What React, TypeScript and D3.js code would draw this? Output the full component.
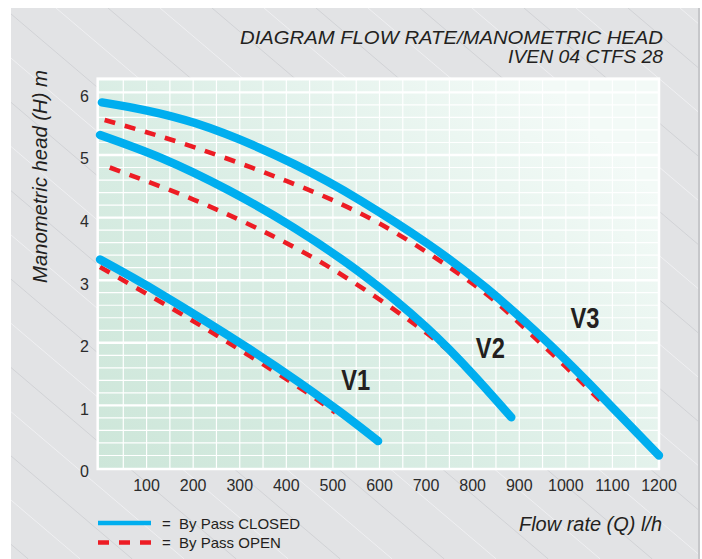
import React from "react";
import * as d3 from "d3";

const width = 702;
const height = 559;

// flow rate (l/h) on x, manometric head (m) on y
const flowTicks = [100, 200, 300, 400, 500, 600, 700, 800, 900, 1000, 1100, 1200];
const headTicks = [0, 1, 2, 3, 4, 5, 6];

type Pt = [number, number];

const v1Closed: Pt[] = [[0, 3.33], [132, 2.775], [316, 1.925], [429, 1.36], [515, 0.9], [597, 0.43]];
const v1Open: Pt[] = [[0, 3.21], [161, 2.52], [300, 1.89], [429, 1.28], [505, 0.885]];

const v2Closed: Pt[] = [[0, 5.32], [132, 4.95], [275, 4.44], [418, 3.83], [562, 3.1], [700, 2.25], [800, 1.5], [883, 0.81]];
const v2Open: Pt[] = [[21, 4.8], [202, 4.284], [368, 3.716], [527, 3.048], [700, 2.161], [790, 1.585]];

const v3Closed: Pt[] = [[4, 5.84], [204, 5.51], [418, 4.85], [562, 4.26], [700, 3.6], [830, 2.87], [950, 2.08], [1050, 1.35], [1200, 0.2]];
const v3Open: Pt[] = [[10, 5.56], [200, 5.13], [400, 4.585], [600, 3.905], [800, 2.945], [900, 2.315], [1000, 1.615], [1077, 1.05]];

const curveLabels = [
    { name: "V1", q: 549, h: 1.25 },
    { name: "V2", q: 838, h: 1.76 },
    { name: "V3", q: 1041, h: 2.24 },
];

const legendItems = [
    { label: "=  By Pass CLOSED", open: false },
    { label: "=  By Pass OPEN", open: true },
];

const BLUE = "#00aeef";
const RED = "#ed1c24";
const INK = "#231f20";
const FONT = "'Liberation Sans', Arial, Helvetica, sans-serif";

const x = d3.scaleLinear().domain([0, 1200]).range([100, 659]);
const y = d3.scaleLinear().domain([0, 6]).range([468, 92.4]);

const line = d3.line<Pt>()
    .x(d => x(d[0]))
    .y(d => y(d[1]))
    .curve(d3.curveNatural);

const gridQ = d3.range(50, 1200, 50);
const gridH = d3.range(1, 32).map(i => +(i * 0.2).toFixed(1));

// decorative diagonal hairlines in the grey backdrop
const stripes = d3.range(-620, 700, 52);

export default function App() {
    const px0 = x(-5), px1 = x(1200);
    const py0 = y(6.22), py1 = y(0) + 1;

    return (
        <svg width={width} height={height} style={{ position: "absolute", left: 0, top: 0 }}
            fontFamily={FONT}>
            <defs>
                <linearGradient id="panelFill" x1="0" y1="1" x2="1" y2="0.3">
                    <stop offset="0" stopColor="#cde6d9" />
                    <stop offset="0.45" stopColor="#d9ede4" />
                    <stop offset="1" stopColor="#f3faf7" />
                </linearGradient>
                <clipPath id="bgClip">
                    <rect x={11} y={8} width={688} height={height - 8} />
                </clipPath>
            </defs>

            <rect x={0} y={0} width={width} height={height} fill="#fff" />
            <rect x={11} y={8} width={688} height={height - 8} fill="#e2e3e5" />
            <g clipPath="url(#bgClip)" fill="none" strokeWidth={0.8}>
                {stripes.map((s, i) => (
                    <line key={s} x1={s} y1={8} x2={s + (height - 8) / 0.85} y2={height}
                        stroke={i % 2 ? "#f3f3f5" : "#cdced2"} />
                ))}
            </g>
            <rect x={698} y={8} width={2} height={height - 8} fill="#c6c7ca" />

            {/* title */}
            <g fill={INK} fontStyle="italic" fontSize={19} textAnchor="end">
                <text x={663} y={44} textLength={423} lengthAdjust="spacingAndGlyphs">DIAGRAM FLOW RATE/MANOMETRIC HEAD</text>
                <text x={663} y={63} textLength={155} lengthAdjust="spacingAndGlyphs">IVEN 04 CTFS 28</text>
            </g>

            {/* plot panel */}
            <rect x={px0} y={py0} width={px1 - px0} height={py1 - py0} fill="url(#panelFill)" />
            <g stroke="#fff" fill="none">
                {gridQ.map(q => (
                    <line key={q} x1={x(q)} x2={x(q)} y1={py0} y2={py1} strokeWidth={1.2} />
                ))}
                {gridH.map(h => (
                    <line key={h} x1={px0} x2={px1} y1={y(h)} y2={y(h)}
                        strokeWidth={Number.isInteger(h) ? 2.4 : 1.2} />
                ))}
                <rect x={px0} y={py0} width={px1 - px0} height={py1 - py0} strokeWidth={2.5} />
            </g>

            {/* axes labels */}
            <g fill="#2b2b2b" fontSize={16}>
                {headTicks.map(h => (
                    <text key={h} x={89} y={y(h) + 9.4} textAnchor="end">{h}</text>
                ))}
                {flowTicks.map(q => (
                    <text key={q} x={x(q)} y={491} textAnchor="middle">{q}</text>
                ))}
            </g>
            <text transform={`translate(47,176.5) rotate(-90)`} textAnchor="middle" fontSize={20}
                fontStyle="italic" fill={INK} textLength={213} lengthAdjust="spacingAndGlyphs">
                Manometric head (H) m
            </text>
            <text x={662} y={531} textAnchor="end" fontSize={20} fontStyle="italic" fill={INK}
                textLength={143} lengthAdjust="spacingAndGlyphs">Flow rate (Q) l/h</text>

            {/* curves: by-pass open (dashed) under by-pass closed */}
            <g fill="none" stroke={RED} strokeWidth={4.6} strokeDasharray="11,10">
                {[v1Open, v2Open, v3Open].map((d, i) => <path key={i} d={line(d) ?? ""} />)}
            </g>
            <g fill="none" stroke={BLUE} strokeWidth={8.4} strokeLinecap="round">
                {[v1Closed, v2Closed, v3Closed].map((d, i) => <path key={i} d={line(d) ?? ""} />)}
            </g>

            <g fill={INK} fontWeight="bold" fontSize={30} textAnchor="middle">
                {curveLabels.map(c => (
                    <text key={c.name} x={x(c.q)} y={y(c.h)} textLength={29}
                        lengthAdjust="spacingAndGlyphs">{c.name}</text>
                ))}
            </g>

            {/* legend */}
            {legendItems.map((it, i) => (
                <g key={it.label} transform={`translate(0,${523 + i * 19.5})`}>
                    <line x1={98} x2={151} y1={0} y2={0} strokeWidth={4.4}
                        stroke={it.open ? RED : BLUE} strokeDasharray={it.open ? "11,10" : undefined} />
                    <text x={162} y={5.5} fontSize={15} fill={INK} xmlSpace="preserve">{it.label}</text>
                </g>
            ))}
        </svg>
    );
}
